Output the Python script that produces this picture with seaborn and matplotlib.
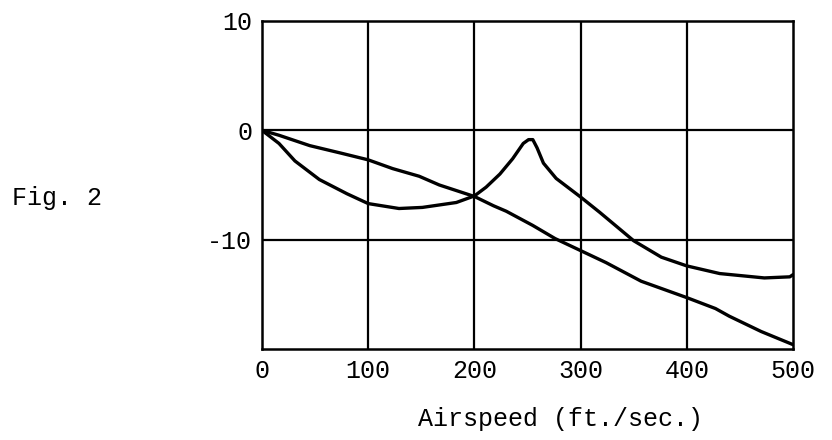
import numpy as np
import pandas as pd
import matplotlib
matplotlib.use('Agg')
import matplotlib.pyplot as plt
import seaborn as sns

# values
airspeed_a = [0, 16, 45, 75, 100, 123, 148, 167, 200, 218, 230, 255, 276, 300,
              324, 357, 400, 427, 440, 470, 500]
curve_a = [0, -0.45, -1.4, -2.1, -2.7, -3.5, -4.2, -5.0, -6.05, -6.9, -7.4, -8.7,
           -9.9, -11.0, -12.1, -13.8, -15.3, -16.3, -17.0, -18.4, -19.6]

airspeed_b = [0, 16, 31, 54, 80, 100, 129, 151, 183, 200, 211, 224, 236, 246,
              251, 255, 259, 265, 277, 300, 318, 350, 376, 400, 431, 473, 497, 500]
curve_b = [0, -1.2, -2.8, -4.5, -5.8, -6.7, -7.15, -7.05, -6.6, -6.0, -5.2, -4.0,
           -2.6, -1.2, -0.85, -0.85, -1.6, -3.0, -4.4, -6.1, -7.5, -10.1, -11.6,
           -12.4, -13.1, -13.5, -13.4, -13.2]

x_ticks = [0, 100, 200, 300, 400, 500]
y_ticks = [-10, 0, 10]

sns.set_style('white')
plt.rcParams['font.family'] = ['Liberation Mono', 'DejaVu Sans Mono']
plt.rcParams['text.color'] = 'black'

fig = plt.figure(figsize=(8.32, 4.40), dpi=100)
ax = fig.add_axes([262 / 832, 1 - 349 / 440, 531 / 832, 328 / 440])

df_a = pd.DataFrame({'x': airspeed_a, 'y': curve_a})
df_b = pd.DataFrame({'x': airspeed_b, 'y': curve_b})
sns.lineplot(data=df_a, x='x', y='y', color='black', linewidth=2.4, ax=ax)
sns.lineplot(data=df_b, x='x', y='y', color='black', linewidth=2.4, ax=ax)

# hand ruled grid
for gx in x_ticks[1:-1]:
    ax.axvline(gx, color='black', linewidth=1.6, zorder=1)
for gy in [-10, 0]:
    ax.axhline(gy, color='black', linewidth=1.6, zorder=1)

ax.set_xlim(0, 500)
ax.set_ylim(-20, 10)
ax.set_xticks(x_ticks)
ax.set_yticks(y_ticks)
ax.set_yticklabels(['-10', '0', '10'])
ax.tick_params(length=0, labelsize=18, labelcolor='black', pad=7)
for s in ax.spines.values():
    s.set_color('black')
    s.set_linewidth(1.8)

ax.set_ylabel('')
ax.set_xlabel('Airspeed (ft./sec.)', fontsize=18, color='black')
ax.xaxis.label.set_va('center')
ax.xaxis.set_label_coords((560 - 262) / 531, (349 - 419) / 328)

fig.text(12 / 832, 1 - 198 / 440, 'Fig. 2', fontsize=18, va='center', ha='left',
         color='black')

fig.savefig('out.png', dpi=100)
